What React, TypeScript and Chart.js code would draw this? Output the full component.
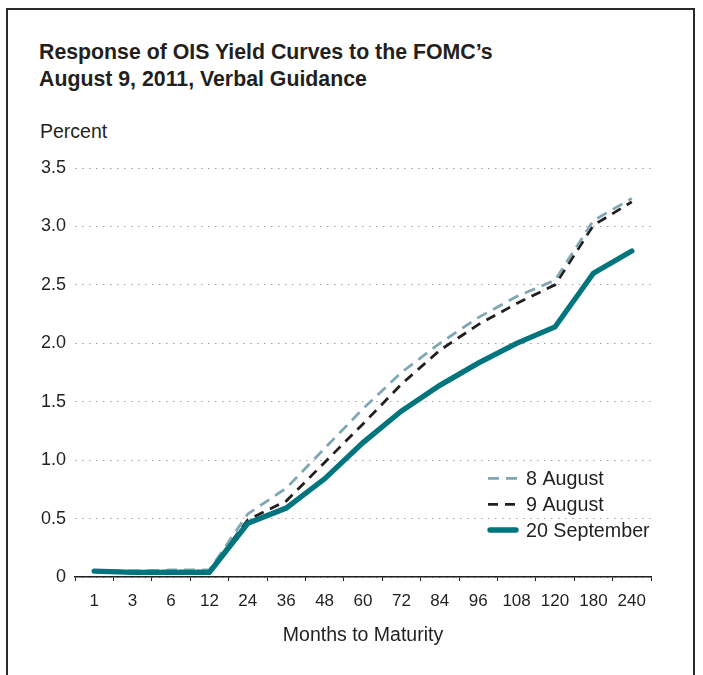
import React, { useEffect, useRef } from "react";
import { Chart, registerables } from "chart.js";

Chart.register(...registerables);

const maturities = ["1", "3", "6", "12", "24", "36", "48", "60", "72", "84", "96", "108", "120", "180", "240"];
const aug8 = [0.05, 0.05, 0.06, 0.06, 0.54, 0.76, 1.1, 1.44, 1.75, 2.0, 2.22, 2.4, 2.54, 3.05, 3.24];
const aug9 = [0.05, 0.05, 0.05, 0.05, 0.49, 0.65, 0.98, 1.31, 1.65, 1.94, 2.16, 2.34, 2.5, 3.01, 3.21];
const sep20 = [0.05, 0.04, 0.04, 0.04, 0.46, 0.59, 0.84, 1.15, 1.42, 1.64, 1.83, 2.0, 2.14, 2.6, 2.79];
const seriesNames = ["8 August", "9 August", "20 September"];
const titleLines = ["Response of OIS Yield Curves to the FOMC\u2019s", "August 9, 2011, Verbal Guidance"];
const yUnit = "Percent";
const xTitle = "Months to Maturity";

const TEXT = "#231F20";
const TEAL = "#00757D";
const LIGHT = "#7FA7B4";
const FONT = "'Liberation Sans', Arial, sans-serif";

const legendPlugin = {
  id: "customLegend",
  afterDraw(chart: any) {
    const ctx = chart.ctx;
    const items = chart.data.datasets.map((ds: any, i: number) => ({ ds, i }));
    const x0 = 488;
    const x1 = 518;
    const ys = [478.3, 504.3, 530];
    ctx.save();
    items.forEach(({ ds, i }: any) => {
      const y = ys[i];
      ctx.beginPath();
      ctx.strokeStyle = ds.borderColor;
      ctx.lineWidth = ds.borderWidth;
      ctx.lineCap = ds.borderCapStyle || "butt";
      ctx.setLineDash(ds.borderDash || []);
      ctx.moveTo(x0 + (ds.borderCapStyle === "round" ? 2 : 0), y);
      ctx.lineTo(x1 - (ds.borderCapStyle === "round" ? 2 : 0), y);
      ctx.stroke();
      ctx.setLineDash([]);
      ctx.fillStyle = TEXT;
      ctx.font = `19.7px ${FONT}`;
      ctx.textBaseline = "alphabetic";
      ctx.textAlign = "left";
      ctx.fillText(ds.label, 526, y + 6.5);
    });
    ctx.restore();
  },
};

export default function App() {
  const ref = useRef<HTMLCanvasElement | null>(null);

  useEffect(() => {
    if (!ref.current) return;
    const chart = new Chart(ref.current, {
      type: "line",
      data: {
        labels: maturities,
        datasets: [
          {
            label: seriesNames[0],
            data: aug8,
            borderColor: LIGHT,
            borderWidth: 2.8,
            borderDash: [11, 7],
            pointRadius: 0,
            tension: 0,
            fill: false,
            order: 1,
          },
          {
            label: seriesNames[1],
            data: aug9,
            borderColor: TEXT,
            borderWidth: 2.8,
            borderDash: [10, 7],
            pointRadius: 0,
            tension: 0,
            fill: false,
            order: 2,
          },
          {
            label: seriesNames[2],
            data: sep20,
            borderColor: TEAL,
            borderWidth: 5.3,
            borderCapStyle: "round",
            borderJoinStyle: "miter",
            pointRadius: 0,
            tension: 0,
            fill: false,
            order: 0,
          },
        ],
      },
      options: {
        responsive: false,
        animation: false,
        devicePixelRatio: 1,
        layout: { padding: { left: 0, right: 52, top: 168, bottom: 0 } },
        plugins: {
          legend: { display: false },
          tooltip: { enabled: false },
          title: { display: false },
        },
        scales: {
          x: {
            type: "category",
            offset: true,
            grid: {
              display: true,
              offset: true,
              drawOnChartArea: false,
              drawTicks: true,
              tickLength: 4,
              color: TEXT,
              lineWidth: 1,
            },
            border: { display: true, color: TEXT, width: 1.5 },
            ticks: {
              color: TEXT,
              font: { family: FONT, size: 17 },
              padding: 10,
              maxRotation: 0,
              autoSkip: false,
            },
            title: {
              display: true,
              text: xTitle,
              color: TEXT,
              font: { family: FONT, size: 19.5 },
              padding: { top: 0, bottom: 28 },
            },
            afterFit: (scale: any) => {
              scale.height = 98;
            },
          },
          y: {
            min: 0,
            max: 3.5,
            grid: {
              display: true,
              drawTicks: false,
              color: "#a0a0a0",
              lineWidth: 1,
            },
            border: { display: false, dash: [1.5, 5.5] },
            ticks: {
              stepSize: 0.5,
              color: TEXT,
              font: { family: FONT, size: 18 },
              padding: 9,
              callback: (v: any) => (Number(v) === 0 ? "0" : Number(v).toFixed(1)),
            },
            afterFit: (scale: any) => {
              scale.width = 75;
            },
          },
        },
      },
      plugins: [legendPlugin],
    });
    return () => chart.destroy();
  }, []);

  return (
    <div
      style={{
        position: "absolute",
        left: 0,
        top: 0,
        width: 703,
        height: 675,
        overflow: "hidden",
        background: "#fff",
        fontFamily: FONT,
        color: TEXT,
      }}
    >
      <div
        style={{
          position: "absolute",
          left: 6,
          top: 8,
          width: 689,
          height: 720,
          boxSizing: "border-box",
          border: "2px solid #2b2b2b",
        }}
      />
      <div
        style={{
          position: "absolute",
          left: 39,
          top: 42,
          fontSize: 21.3,
          lineHeight: "21.3px",
          fontWeight: 700,
          whiteSpace: "nowrap",
        }}
      >
        {titleLines[0]}
      </div>
      <div
        style={{
          position: "absolute",
          left: 39,
          top: 69.3,
          fontSize: 21.3,
          lineHeight: "21.3px",
          fontWeight: 700,
          whiteSpace: "nowrap",
        }}
      >
        {titleLines[1]}
      </div>
      <div
        style={{
          position: "absolute",
          left: 40,
          top: 121.8,
          fontSize: 19.5,
          lineHeight: "19.5px",
          whiteSpace: "nowrap",
        }}
      >
        {yUnit}
      </div>
      <canvas
        ref={ref}
        width={703}
        height={675}
        style={{ position: "absolute", left: 0, top: 0, width: 703, height: 675 }}
      />
    </div>
  );
}
